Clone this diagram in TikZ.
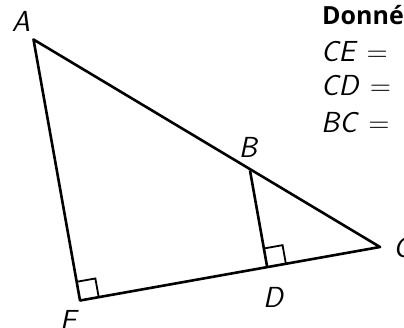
\documentclass[tikz,border=0pt]{standalone}
\usepackage{fontspec}
\newfontfamily\headfont{Open Sans}
\begin{document}
\begin{tikzpicture}[x=1pt,y=-1pt,
  side/.style={line width=2.6pt,line join=round},
  rmark/.style={line width=1.8pt},
  lab/.style={font=\fontsize{29}{34}\selectfont\sffamily\itshape,inner sep=0pt},
  given/.style={font=\fontsize{29}{34}\selectfont\sffamily,inner sep=0pt,anchor=base west},
  head/.style={font=\fontsize{25}{30}\selectfont\headfont\bfseries,inner sep=0pt,anchor=base west}]
\useasboundingbox (0,0) rectangle (404,328);
\coordinate (A) at (33.5,39.5);
\coordinate (B) at (250,170.5);
\coordinate (C) at (380,247);
\coordinate (D) at (267.2,267.2);
\coordinate (E) at (80,300.5);
\draw[side] (A) -- (C) -- (E) -- cycle;
\draw[side] (B) -- (D);
\draw[rmark] ([shift={(18.7,-3.34)}]E) -- ++(-3.34,-18.7) -- ++(-18.7,3.34);
\draw[rmark] ([shift={(18.7,-3.34)}]D) -- ++(-3.34,-18.7) -- ++(-18.7,3.34);
\node[lab] (lA) at (21,21) {A};
\node[lab] (lB) at (248,147.5) {B};
\node[lab] (lC) at (402,248) {C};
\node[lab] (lD) at (273,297) {D};
\node[lab] (lE) at (68,320) {E};
\node[head] (h) at (322,25) {Données};
\node[given] (g1) at (321,62) {\itshape CE\hspace{0.4em}\upshape=};
\node[given] (g2) at (321,96) {\itshape CD\hspace{0.4em}\upshape=};
\node[given] (g3) at (321,133) {\itshape BC\hspace{0.4em}\upshape=};
\end{tikzpicture}
\end{document}
